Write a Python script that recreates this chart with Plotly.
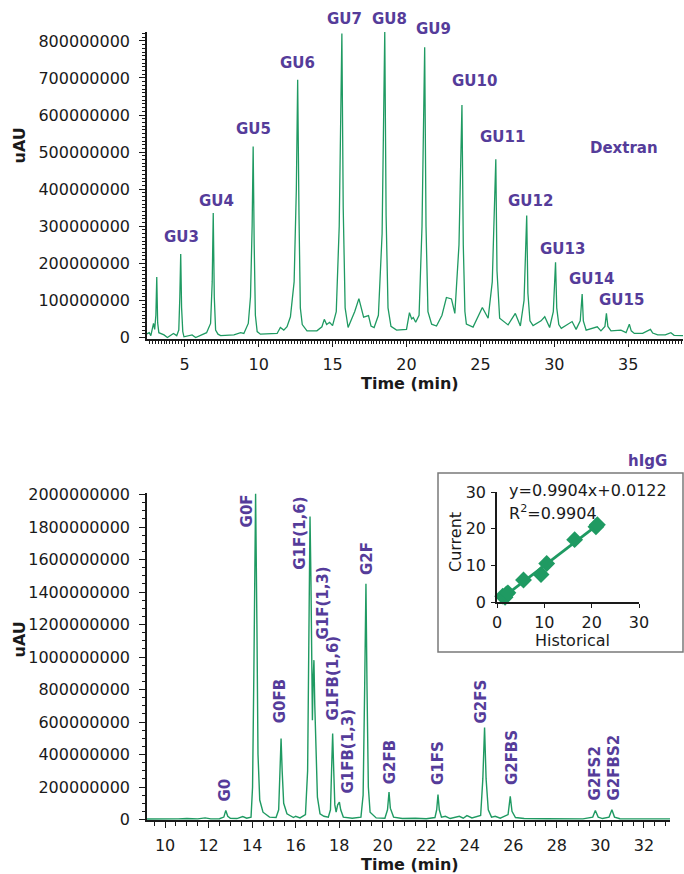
import plotly.graph_objects as go

# ---------------- data ----------------
# Dextran ladder chromatogram (time in min, signal in millions of uAU)
dextran_time = [2.45, 2.6, 2.71, 2.89, 2.97, 3.05, 3.11, 3.17, 3.25, 3.6, 3.83, 4.06, 4.24, 4.46, 4.6, 4.67,
                4.73, 4.79, 4.87, 4.95, 5.5, 5.74, 6.19, 6.48, 6.75, 6.86, 6.93, 7.0, 7.09, 7.25, 7.43, 8.33,
                8.78, 9.0, 9.3, 9.45, 9.56, 9.63, 9.7, 9.78, 9.9, 10.12, 11.25, 11.47, 11.7, 11.92, 12.15,
                12.4, 12.55, 12.64, 12.73, 12.82, 12.95, 13.27, 13.94, 14.28, 14.44, 14.6, 14.8, 15.0, 15.25,
                15.45, 15.63, 15.72, 15.85, 16.05, 16.5, 16.78, 17.1, 17.43, 17.6, 17.81, 18.1, 18.35, 18.53,
                18.62, 18.75, 18.95, 19.33, 20.0, 20.2, 20.35, 20.46, 20.62, 20.85, 21.05, 21.23, 21.32,
                21.45, 21.7, 22.03, 22.4, 22.7, 23.04, 23.27, 23.55, 23.75, 23.84, 23.95, 24.05, 24.5, 24.9,
                25.13, 25.52, 25.8, 26.04, 26.12, 26.3, 26.87, 27.36, 27.7, 27.95, 28.13, 28.21, 28.35,
                28.56, 29.1, 29.35, 29.68, 29.93, 30.08, 30.16, 30.3, 30.47, 31.2, 31.47, 31.75, 31.88,
                31.96, 32.15, 32.9, 33.15, 33.42, 33.52, 33.62, 33.83, 34.5, 34.85, 35.07, 35.2, 35.41,
                35.97, 36.5, 36.65, 36.99, 37.5, 37.88, 38.1, 38.55, 38.7]
dextran_uau_m = [10, 13, 5, 38, 22, 60, 163, 40, 13, 7, 0, 5, 11, 5, 20, 110,
                 225, 80, 16, 2, 7, 0, 7, 13, 38, 150, 336, 110, 20, 9, 5, 7,
                 13, 11, 38, 110, 300, 515, 250, 60, 16, 9, 11, 27, 20, 29, 56,
                 150, 400, 695, 330, 80, 35, 18, 18, 29, 49, 35, 41, 32, 70,
                 300, 820, 350, 80, 27, 70, 105, 55, 59, 31, 27, 60, 280, 825,
                 330, 80, 30, 20, 22, 67, 50, 54, 41, 60, 300, 783, 300,
                 70, 36, 31, 60, 108, 104, 65, 250, 627, 250, 70, 36, 28, 60,
                 81, 52, 150, 481, 180, 52, 34, 65, 31, 100, 329, 120, 45,
                 32, 45, 56, 27, 70, 203, 80, 35, 25, 43, 22, 45, 117,
                 45, 20, 29, 18, 30, 65, 30, 18, 20, 13, 36, 18, 11,
                 11, 22, 12, 7, 7, 13, 6, 5, 5]

gu_labels = ["GU3", "GU4", "GU5", "GU6", "GU7", "GU8", "GU9", "GU10", "GU11", "GU12", "GU13", "GU14", "GU15"]
gu_label_time = [4.76, 7.14, 9.62, 12.62, 15.79, 18.82, 21.82, 24.62, 26.48, 28.4, 30.52, 32.51, 34.53]
gu_label_uau_m = [270, 368, 563, 741, 859, 859, 832, 692, 541, 368, 239, 158, 101]

# hIgG glycan chromatogram (time in min, signal in millions of uAU)
higg_time = [9.17, 9.6, 10.0, 10.6, 11.0, 11.5, 11.84, 12.1, 12.5, 12.7, 12.79, 12.88, 13.0, 13.3, 13.57,
             13.75, 13.95, 14.02, 14.08, 14.16, 14.22, 14.27, 14.35, 14.5, 14.8, 15.1, 15.22, 15.28, 15.33,
             15.38, 15.45, 15.6, 15.9, 16.0, 16.2, 16.45, 16.55, 16.62, 16.66, 16.7, 16.74, 16.77, 16.8,
             16.84, 16.88, 16.94, 17.0, 17.12, 17.3, 17.5, 17.6, 17.65, 17.7, 17.75, 17.8, 17.86, 17.93,
             18.01, 18.07, 18.19, 18.6, 19.0, 19.1, 19.17, 19.23, 19.28, 19.34, 19.42, 19.7, 20.1, 20.22,
             20.29, 20.35, 20.5, 20.9, 21.5, 22.0, 22.4, 22.48, 22.54, 22.6, 22.7, 22.88, 23.1, 23.52,
             23.7, 23.87, 24.1, 24.5, 24.6, 24.68, 24.75, 24.85, 25.0, 25.17, 25.4, 25.76, 25.86, 25.94,
             26.1, 26.5, 27.5, 28.5, 29.2, 29.65, 29.77, 29.9, 30.1, 30.4, 30.53, 30.65, 30.9, 31.5,
             32.3, 33.2]
higg_uau_m = [3, 2, 5, 4, 6, 4, 10, 4, 5, 15, 56, 20, 8, 6, 18,
              8, 15, 200, 900, 2005, 1200, 400, 120, 45, 15, 12, 60, 300, 498,
              300, 100, 35, 12, 20, 10, 30, 300, 1300, 1866, 1500, 800, 611, 850,
              981, 700, 350, 138, 35, 20, 15, 60, 300, 529, 300, 90, 45, 90,
              107, 60, 15, 8, 15, 150, 800, 1451, 800, 200, 45, 10, 8, 60,
              169, 70, 15, 6, 8, 5, 12, 60, 154, 60, 15, 20, 6, 20,
              8, 24, 10, 25, 250, 566, 250, 60, 15, 20, 8, 30, 142, 50,
              12, 6, 5, 6, 4, 15, 56, 15, 6, 15, 60, 15, 5, 4,
              3, 4]

glycan_labels = ["G0", "G0F", "G0FB", "G1F(1,6)", "G1F(1,3)", "G1FB(1,6)", "G1FB(1,3)", "G2F",
                 "G2FB", "G1FS", "G2FS", "G2FBS", "G2FS2", "G2FBS2"]
glycan_label_time = [12.76, 13.75, 15.28, 16.2, 17.24, 17.73, 18.42, 19.29,
                     20.35, 22.57, 24.53, 25.91, 29.74, 30.61]
glycan_label_uau_m = [179, 1901, 728, 1759, 1333, 870, 420, 1605,
                      354, 345, 728, 380, 282, 318]

# Inset correlation (relative peak areas, %)
historical = [1.2, 1.7, 2.0, 2.3, 5.6, 9.3, 10.5, 16.4, 20.9, 21.2]
current = [1.6, 1.3, 2.2, 2.5, 6.0, 7.5, 10.5, 17.0, 20.5, 21.1]
fit_slope = 0.9904
fit_intercept = 0.0122
fit_r2 = 0.9904
fit_x_span = [1.2, 21.3]

# ---------------- styling ----------------
W, H = 684, 874
GREEN = "#1f9a62"
PURPLE = "#553c9a"
INK = "#1a1a1a"
FONT = "DejaVu Sans"


def px(x):
    return x / W


def py(y):
    return 1 - y / H


TOP_DOM = [py(339), py(32)]
TOP_RANGE = [-4e6, 824e6]
BOT_DOM = [py(820), py(493)]
BOT_RANGE = [-3e6, 2.01e9]


def to_paper_y(v, dom, rng):
    return dom[0] + (v - rng[0]) / (rng[1] - rng[0]) * (dom[1] - dom[0])


fig = go.Figure()

fig.add_trace(go.Scatter(x=dextran_time, y=[v * 1e6 for v in dextran_uau_m], mode="lines",
                         line=dict(color=GREEN, width=1.3), xaxis="x", yaxis="y",
                         showlegend=False, hoverinfo="x+y"))
fig.add_trace(go.Scatter(x=higg_time, y=[v * 1e6 for v in higg_uau_m], mode="lines",
                         line=dict(color=GREEN, width=1.4), xaxis="x2", yaxis="y2",
                         showlegend=False, hoverinfo="x+y"))
fig.add_trace(go.Scatter(x=fit_x_span, y=[fit_slope * x + fit_intercept for x in fit_x_span],
                         mode="lines", line=dict(color=GREEN, width=2.8), xaxis="x3", yaxis="y3",
                         showlegend=False, cliponaxis=False))
fig.add_trace(go.Scatter(x=historical, y=current, mode="markers",
                         marker=dict(symbol="diamond", size=13, color=GREEN),
                         xaxis="x3", yaxis="y3", showlegend=False, cliponaxis=False))

common_axis = dict(showline=True, linecolor=INK, linewidth=1.5, ticks="outside", tickcolor=INK,
                   tickwidth=1.3, showgrid=False, zeroline=False, automargin=False,
                   tickfont=dict(family=FONT, size=16, color=INK))

fig.update_layout(
    width=W, height=H, autosize=False,
    margin=dict(l=0, r=0, t=0, b=0, pad=0, autoexpand=False),
    paper_bgcolor="white", plot_bgcolor="rgba(0,0,0,0)",
    font=dict(family=FONT, color=INK),
    xaxis=dict(domain=[px(147), px(683)], range=[2.45, 38.7], anchor="y", dtick=5, tick0=0,
               ticklen=6, minor=dict(ticks="outside", dtick=0.2, ticklen=3, tickcolor=INK, tickwidth=1),
               ticklabelstandoff=4, **common_axis),
    yaxis=dict(domain=TOP_DOM, range=TOP_RANGE, anchor="x", dtick=1e8, tickformat="d",
               ticklen=6, minor=dict(ticks="outside", dtick=1e7, ticklen=3, tickcolor=INK, tickwidth=1),
               ticklabelstandoff=6, **common_axis),
    xaxis2=dict(domain=[px(147), px(670)], range=[9.17, 33.2], anchor="y2", dtick=2, tick0=0,
                ticklen=6, minor=dict(ticks="outside", dtick=0.5, ticklen=4, tickcolor=INK, tickwidth=1),
                ticklabelstandoff=4, **common_axis),
    yaxis2=dict(domain=BOT_DOM, range=BOT_RANGE, anchor="x2", dtick=2e8, tickformat="d",
                ticklen=6, minor=dict(ticks="outside", dtick=5e7, ticklen=3, tickcolor=INK, tickwidth=1),
                ticklabelstandoff=6, **common_axis),
    xaxis3=dict(domain=[px(497), px(639)], range=[0, 30], anchor="y3", dtick=10, ticklen=4,
                ticklabelstandoff=1, **common_axis),
    yaxis3=dict(domain=[py(602), py(492)], range=[0, 30], anchor="x3", dtick=10, ticklen=4,
                ticklabelstandoff=2, **common_axis),
)

# inset frame
fig.add_shape(type="rect", xref="paper", yref="paper", x0=px(438), x1=px(683), y0=py(652), y1=py(473),
              line=dict(color="#7a7a7a", width=1.5), fillcolor="white", layer="below")

ann = []
for lab, t, v in zip(gu_labels, gu_label_time, gu_label_uau_m):
    ann.append(dict(x=t, y=to_paper_y(v * 1e6, TOP_DOM, TOP_RANGE), xref="x", yref="paper",
                    text=f"<b>{lab}</b>", showarrow=False,
                    xanchor="center", yanchor="middle", font=dict(family=FONT, size=15, color=PURPLE)))
for lab, t, v in zip(glycan_labels, glycan_label_time, glycan_label_uau_m):
    ann.append(dict(x=t, y=to_paper_y(v * 1e6, BOT_DOM, BOT_RANGE), xref="x2", yref="paper",
                    text=f"<b>{lab}</b>", showarrow=False,
                    textangle=-90, xanchor="center", yanchor="middle",
                    font=dict(family=FONT, size=15, color=PURPLE)))

# titles and texts
ann += [
    dict(x=px(624), y=py(148), xref="paper", yref="paper", text="<b>Dextran</b>", showarrow=False,
         xanchor="center", yanchor="middle", font=dict(family=FONT, size=15, color=PURPLE)),
    dict(x=px(647), y=py(461), xref="paper", yref="paper", text="<b>hIgG</b>", showarrow=False,
         xanchor="center", yanchor="middle", font=dict(family=FONT, size=15, color=PURPLE)),
    dict(x=px(18.5), y=py(146), xref="paper", yref="paper", text="<b>uAU</b>", showarrow=False,
         textangle=-90, xanchor="center", yanchor="middle", font=dict(family=FONT, size=16, color=INK)),
    dict(x=px(18.5), y=py(640), xref="paper", yref="paper", text="<b>uAU</b>", showarrow=False,
         textangle=-90, xanchor="center", yanchor="middle", font=dict(family=FONT, size=16, color=INK)),
    dict(x=px(410), y=py(383), xref="paper", yref="paper", text="<b>Time (min)</b>", showarrow=False,
         xanchor="center", yanchor="middle", font=dict(family=FONT, size=16, color=INK)),
    dict(x=px(410), y=py(864), xref="paper", yref="paper", text="<b>Time (min)</b>", showarrow=False,
         xanchor="center", yanchor="middle", font=dict(family=FONT, size=16, color=INK)),
    dict(x=px(455), y=py(542), xref="paper", yref="paper", text="Current", showarrow=False,
         textangle=-90, xanchor="center", yanchor="middle", font=dict(family=FONT, size=16, color=INK)),
    dict(x=px(572), y=py(640), xref="paper", yref="paper", text="Historical", showarrow=False,
         xanchor="center", yanchor="middle", font=dict(family=FONT, size=16, color=INK)),
    dict(x=px(507), y=py(490), xref="paper", yref="paper",
         text=f"y={fit_slope}x+{fit_intercept}", showarrow=False,
         xanchor="left", yanchor="middle", font=dict(family=FONT, size=16, color=INK)),
    dict(x=px(507), y=py(512), xref="paper", yref="paper",
         text=f"R<sup>2</sup>={fit_r2}", showarrow=False,
         xanchor="left", yanchor="middle", font=dict(family=FONT, size=16, color=INK)),
]
fig.update_layout(annotations=ann)

fig.write_html("out.html", config={"displayModeBar": False},
               post_script="document.body.style.margin='0';document.body.style.overflow='hidden';")
